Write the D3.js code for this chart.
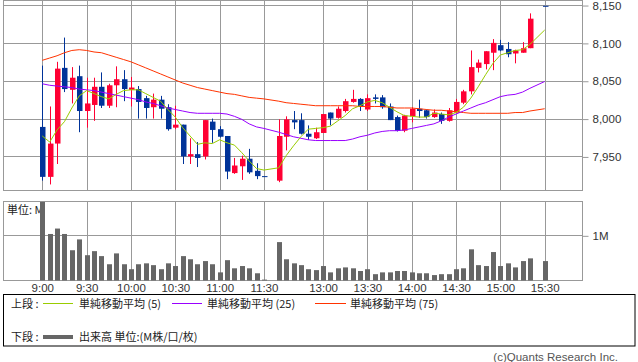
<!DOCTYPE html>
<html>
<head>
<meta charset="utf-8">
<script src="https://cdn.jsdelivr.net/npm/d3@7"></script>
<style>
body { margin: 0; background: #fff; }
svg { display: block; }
.ax text { font-family: "Liberation Sans", Arial, sans-serif; font-size: 11.5px; fill: #333; }
.jp { font-family: "Noto Sans CJK JP", sans-serif; font-size: 11px; fill: #222; }
</style>
</head>
<body>
<svg width="638" height="362"></svg>
<script>
// 5 minute bars (15:25 has no trade, 11:30 / 15:30 are closing prints)
var times = ['9:00','9:05','9:10','9:15','9:20','9:25','9:30','9:35','9:40','9:45','9:50','9:55',
  '10:00','10:05','10:10','10:15','10:20','10:25','10:30','10:35','10:40','10:45','10:50','10:55',
  '11:00','11:05','11:10','11:15','11:20','11:25','11:30',
  '12:30','12:35','12:40','12:45','12:50','12:55','13:00','13:05','13:10','13:15','13:20','13:25',
  '13:30','13:35','13:40','13:45','13:50','13:55','14:00','14:05','14:10','14:15','14:20','14:25',
  '14:30','14:35','14:40','14:45','14:50','14:55','15:00','15:05','15:10','15:15','15:20','15:30'];
var opens = [7989,7923,7967,8067,8038,8056,8010,8018,8042,8017,8044,8052,
  8038,8039,8027,8015,8025,8015,7988,7992,7950,7953,7950,7996,
  7986,7977,7928,7937,7947,7931,7924,
  7918,7976,7998,7998,7980,7974,7981,8008,8001,8010,8022,8026,
  8012,8028,8028,8016,8002,7984,8003,8013,8011,8002,8006,7997,
  8008,8021,8036,8067,8072,8087,8097,8092,8086,8087,8093,8149];
var highs = [8070,8016,8075,8107,8068,8070,8054,8054,8061,8046,8069,8064,
  8055,8043,8030,8033,8030,8019,8017,7992,7974,7969,7998,8000,
  7990,7977,7948,7951,7960,7941,7924,
  7999,8003,8010,8007,7991,7988,8006,8008,8016,8026,8038,8027,
  8032,8032,8031,8020,8004,8005,8015,8025,8012,8012,8008,8014,
  8026,8038,8090,8078,8089,8105,8104,8101,8091,8101,8139,8149];
var lows = [7918,7913,7940,8035,8020,7982,7988,7997,8014,8014,8015,8023,
  8016,8000,8000,8000,8000,7984,7986,7940,7940,7936,7946,7968,
  7975,7920,7927,7919,7927,7920,7924,
  7916,7958,7986,7979,7972,7973,7981,7991,8000,8008,8021,8010,
  8010,8020,8013,7998,7983,7982,7995,8001,8000,8001,7993,7996,
  8007,8019,8032,8061,8065,8064,8089,8081,8073,8087,8093,8149];
var closes = [7923,7967,8066,8039,8054,8010,8020,8042,8017,8044,8052,8039,
  8041,8022,8014,8025,8013,7986,7992,7950,7953,7948,7998,7985,
  7976,7930,7938,7947,7929,7924,7924,
  7977,7999,7995,7980,7976,7982,8006,8000,8013,8023,8026,8016,
  8027,8026,8015,7998,7984,8004,8013,8010,8002,8008,7997,8011,
  8022,8036,8068,8074,8089,8100,8090,8085,8090,8093,8132,8149];
// volume, unit M
var volumes = [1.74,1.03,1.15,1.03,0.67,0.91,0.56,0.65,0.54,0.36,0.60,0.36,
  0.25,0.36,0.38,0.34,0.25,0.38,0.32,0.54,0.47,0.36,0.43,0.36,
  0.18,0.45,0.27,0.32,0.27,0.16,0.02,
  0.85,0.47,0.38,0.34,0.25,0.23,0.32,0.18,0.27,0.29,0.27,0.21,
  0.25,0.14,0.18,0.18,0.21,0.21,0.18,0.16,0.16,0.12,0.14,0.14,
  0.25,0.27,0.69,0.34,0.32,0.63,0.32,0.38,0.29,0.43,0.49,0.43];
var ma5 = [7977,7969,7985,7996,8014,8030,8037,8033,8029,8026,8032,8037,
  8038,8038,8033,8028,8023,8012,8002,7988,7977,7966,7968,7967,
  7972,7968,7965,7955,7944,7934,7932,
  7935,7951,7964,7976,7986,7987,7988,7990,7997,8004,8013,8017,
  8022,8024,8021,8015,8009,8004,8003,8002,8002,8007,8006,8005,
  8008,8015,8027,8042,8058,8073,8084,8087,8090,8091,8098,8117];
var ma25 = [8046,8044,8043,8042,8041,8039,8038,8037,8035,8033,8031,8029,
  8027,8025,8022,8020,8017,8014,8012,8010,8008,8007,8007,8007,
  8007,8006,8003,7999,7993,7989,7987,
  7982,7979,7976,7974,7972,7971,7971,7971,7971,7971,7973,7976,
  7978,7981,7983,7984,7984,7985,7987,7989,7991,7993,7997,8002,
  8006,8010,8014,8018,8021,8025,8029,8031,8032,8035,8040,8049];
var ma75 = [8077,8080,8083,8087,8090,8091,8090,8088,8087,8084,8081,8078,
  8075,8071,8067,8063,8059,8055,8051,8047,8044,8041,8039,8037,
  8035,8033,8032,8030,8028,8027,8026,
  8023,8021,8020,8019,8018,8017,8017,8017,8017,8017,8017,8016,
  8016,8016,8016,8015,8014,8014,8014,8013,8012,8011,8011,8010,
  8009,8008,8007,8007,8007,8007,8007,8007,8008,8008,8010,8013];
var priceTicks = [7950, 8000, 8050, 8100, 8150];
var volTicks = [1];
var timeTicks = ['9:00','9:30','10:00','10:30','11:00','11:30','13:00','13:30','14:00','14:30','15:00','15:30'];

var svg = d3.select('svg');
var left = 3.5, right = 582.5;

// slot list: morning 9:00-11:30, afternoon 12:25-15:30
var slots = [];
function addSession(from, to) {
  for (var t = from; t <= to; t += 5) {
    slots.push(Math.floor(t / 60) + ':' + String(t % 60).padStart(2, '0'));
  }
}
addSession(9 * 60, 11 * 60 + 30);
addSession(12 * 60 + 25, 15 * 60 + 30);

var x = d3.scalePoint().domain(slots).range([42.3, 544.7]);
var y = d3.scaleLinear().domain([7905, 8156]).range([190.5, 0.5]);
var yv = d3.scaleLinear().domain([0, 1.76]).range([280.5, 201]);

var bars = times.map(function(t, i) {
  return {t: t, o: opens[i], h: highs[i], l: lows[i], c: closes[i], v: volumes[i]};
});

var red = '#ff0033', blue = '#003399', grid = '#999';

// grid - price panel
var g1 = svg.append('g');
g1.selectAll('line.h').data(priceTicks).join('line')
  .attr('x1', left).attr('x2', right)
  .attr('y1', function(d) { return Math.round(y(d)) + 0.5 })
  .attr('y2', function(d) { return Math.round(y(d)) + 0.5 })
  .attr('stroke', grid);
g1.selectAll('line.v').data(timeTicks).join('line')
  .attr('x1', function(d) { return Math.round(x(d)) + 0.5 })
  .attr('x2', function(d) { return Math.round(x(d)) + 0.5 })
  .attr('y1', 0.5).attr('y2', 190.5)
  .attr('stroke', grid);
g1.append('rect').attr('x', left).attr('y', 0.5).attr('width', right - left).attr('height', 190)
  .attr('fill', 'none').attr('stroke', grid);

// grid - volume panel
var g2 = svg.append('g');
g2.selectAll('line.h').data(volTicks).join('line')
  .attr('x1', left).attr('x2', right)
  .attr('y1', function(d) { return Math.round(yv(d)) + 0.5 })
  .attr('y2', function(d) { return Math.round(yv(d)) + 0.5 })
  .attr('stroke', grid);
g2.selectAll('line.v').data(timeTicks).join('line')
  .attr('x1', function(d) { return Math.round(x(d)) + 0.5 })
  .attr('x2', function(d) { return Math.round(x(d)) + 0.5 })
  .attr('y1', 201).attr('y2', 280.5)
  .attr('stroke', grid);
g2.append('rect').attr('x', left).attr('y', 201.5).attr('width', right - left).attr('height', 79)
  .attr('fill', 'none').attr('stroke', grid);

// axes
var ay = svg.append('g').attr('class', 'ax').attr('transform', 'translate(' + right + ',0.5)')
  .call(d3.axisRight(y).tickValues(priceTicks).tickSize(6).tickPadding(4).tickFormat(d3.format(',')));
var av = svg.append('g').attr('class', 'ax').attr('transform', 'translate(' + right + ',0.5)')
  .call(d3.axisRight(yv).tickValues(volTicks).tickSize(6).tickPadding(4).tickFormat(function(d) { return d + 'M' }));
var ax = svg.append('g').attr('class', 'ax').attr('transform', 'translate(0,280.5)')
  .call(d3.axisBottom(x).tickValues(timeTicks).tickSize(0).tickPadding(3));
[ay, av, ax].forEach(function(a) {
  a.select('.domain').remove();
  a.selectAll('line').attr('stroke', grid);
});

svg.append('text').attr('class', 'jp').attr('x', 7).attr('y', 214).text('単位: M');

// volume bars
svg.append('g').selectAll('rect').data(bars).join('rect')
  .attr('x', function(d) { return Math.round(x(d.t)) - 2 })
  .attr('width', 5)
  .attr('y', function(d) { return yv(d.v) })
  .attr('height', function(d) { return Math.max(0, 280.5 - yv(d.v)) })
  .attr('fill', '#666');

// candles
var cg = svg.append('g').selectAll('g').data(bars).join('g');
cg.append('line')
  .attr('x1', function(d) { return Math.round(x(d.t)) + 0.5 })
  .attr('x2', function(d) { return Math.round(x(d.t)) + 0.5 })
  .attr('y1', function(d) { return y(d.h) })
  .attr('y2', function(d) { return y(d.l) })
  .attr('stroke', function(d) { return d.c > d.o ? red : blue });
cg.append('rect')
  .attr('x', function(d) { return Math.round(x(d.t)) - 2 })
  .attr('width', 5.5)
  .attr('y', function(d) { return y(Math.max(d.o, d.c)) })
  .attr('height', function(d) { return Math.max(1, Math.abs(y(d.o) - y(d.c))) })
  .attr('fill', function(d) { return d.c > d.o ? red : blue });

// moving averages
var maLines = [[ma75, '#ff3300'], [ma25, '#9900ff'], [ma5, '#99cc00']];
var line = d3.line()
  .x(function(d, i) { return x(times[i]) })
  .y(function(d) { return y(d) });
maLines.forEach(function(m) {
  svg.append('path').datum(m[0]).attr('d', line)
    .attr('fill', 'none').attr('stroke', m[1]).attr('stroke-width', 1);
});

// legend
var lg = svg.append('g');
lg.append('rect').attr('x', 3.5).attr('y', 294.5).attr('width', 631.5).attr('height', 51.5)
  .attr('fill', 'none').attr('stroke', '#000');
lg.append('text').attr('class', 'jp').attr('x', 11).attr('y', 307.5).text('上段 :');
lg.append('text').attr('class', 'jp').attr('x', 11).attr('y', 341).text('下段 :');
var legendItems = [
  {x1: 43, x2: 73, tx: 79, color: '#99cc00', label: '単純移動平均 (5)'},
  {x1: 172, x2: 202, tx: 207, color: '#9900ff', label: '単純移動平均 (25)'},
  {x1: 315, x2: 346, tx: 350, color: '#ff3300', label: '単純移動平均 (75)'}
];
legendItems.forEach(function(d) {
  lg.append('line').attr('x1', d.x1).attr('x2', d.x2).attr('y1', 303.5).attr('y2', 303.5)
    .attr('stroke', d.color);
  lg.append('text').attr('class', 'jp').attr('x', d.tx).attr('y', 307.5).text(d.label);
});
lg.append('line').attr('x1', 43).attr('x2', 73).attr('y1', 337).attr('y2', 337)
  .attr('stroke', '#666').attr('stroke-width', 4);
lg.append('text').attr('class', 'jp').attr('x', 79).attr('y', 341).text('出来高 単位:(M株/口/枚)');

svg.append('text').attr('x', 618).attr('y', 360.5).attr('text-anchor', 'end')
  .style('font-family', '"Liberation Sans", Arial, sans-serif').style('font-size', '11.5px')
  .attr('fill', '#555').text('(c)Quants Research Inc.');
</script>
</body>
</html>
